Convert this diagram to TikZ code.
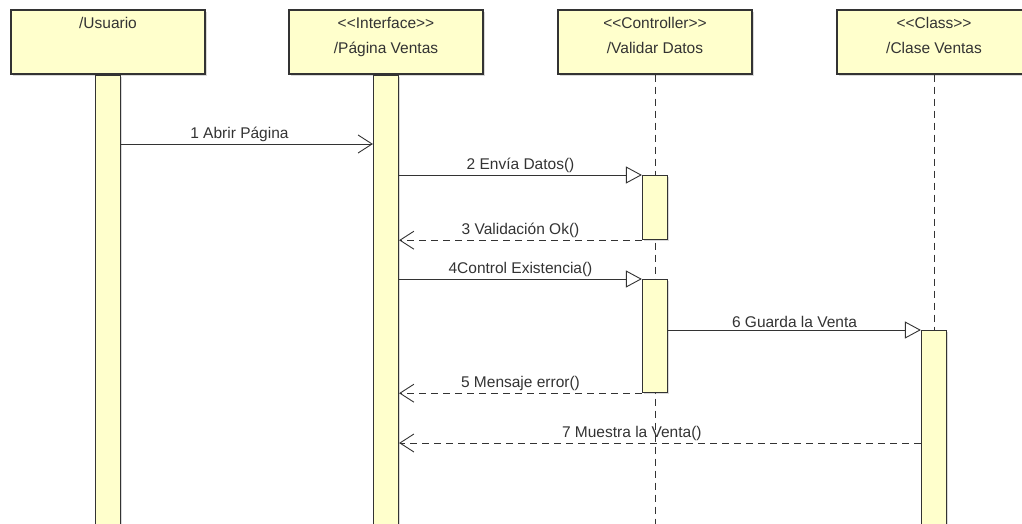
\documentclass[tikz,border=0pt]{standalone}
\usepackage{fontspec}
\setmainfont{Liberation Sans}
\usetikzlibrary{arrows.meta,positioning,shadows}
\definecolor{umlfill}{RGB}{255,255,204}
\definecolor{ink}{RGB}{51,51,51}

\begin{document}
\begin{tikzpicture}[
  x=1pt, y=-1pt,
  font=\fontsize{15.5}{25}\selectfont,
  head/.style  = {draw=ink, line width=1.2pt, fill=umlfill, minimum width=194pt, minimum height=64pt,
                  drop shadow={shadow xshift=2pt, shadow yshift=-2pt, opacity=0.3}},
  bar/.style   = {draw=ink, line width=1.2pt, fill=umlfill, minimum width=25pt, inner sep=0pt, anchor=north,
                  drop shadow={shadow xshift=1.5pt, shadow yshift=-1.5pt, opacity=0.3}},
  life/.style  = {draw=ink, line width=1pt, dash pattern=on 7pt off 5pt},
  msg/.style   = {draw=ink, line width=0.9pt},
  sync/.style  = {msg, -{Triangle[open, length=16pt, width=17pt]}},
  async/.style = {msg, -{Straight Barb[length=14pt, width=18pt]}},
  ret/.style   = {async, dash pattern=on 7pt off 5pt},
  note/.style  = {text=ink, inner sep=2pt, align=center}
]
\useasboundingbox (0,0) rectangle (1022,524);

% Heads
\node[head] (usuario) at (108,42) {};
\node[head] (pagina)  at (386,42) {};
\node[head] (validar) at (655,42) {};
\node[head] (clase)   at (934,42) {};
\node[note, below=6pt of usuario.north] {/Usuario};
\node[note, below=6pt of pagina.north]  {<{}<Interface>{}>\\/Página Ventas};
\node[note, below=6pt of validar.north] {<{}<Controller>{}>\\/Validar Datos};
\node[note, below=6pt of clase.north]   {<{}<Class>{}>\\/Clase Ventas};

% Lifelines
\coordinate (bottom) at (0,530);
\draw[life] (validar.south) -- (validar.south |- bottom);
\draw[life] (clase.south) -- (clase.south |- bottom);

% Activations
\node[bar, minimum height=460pt] (bar1)  at (usuario.south) {};
\node[bar, minimum height=460pt] (bar2)  at (pagina.south) {};
\node[bar, minimum height=64pt]  (check) at (655,175) {};
\node[bar, minimum height=113pt] (exist) at (655,279) {};
\node[bar, minimum height=210pt] (save)  at (934,330) {};

% Messages
\coordinate (m1) at (0,144);
\coordinate (m7) at (0,443);
\draw[async] (bar1.east |- m1) -- node[note, above, pos=0.47] {1 Abrir Página} (bar2.west |- m1);
\draw[sync] (bar2.east |- check.north) -- node[note, above] {2 Envía Datos()} (check.north west);
\draw[ret] (check.south west) -- node[note, above] {3 Validación Ok()} (bar2.east |- check.south);
\draw[sync] (bar2.east |- exist.north) -- node[note, above] {4Control Existencia()} (exist.north west);
\draw[sync] (exist.east |- save.north) -- node[note, above] {6 Guarda la Venta} (save.north west);
\draw[ret] (exist.south west) -- node[note, above] {5 Mensaje error()} (bar2.east |- exist.south);
\draw[ret] (save.west |- m7) -- node[note, above, pos=0.554] {7 Muestra la Venta()} (bar2.east |- m7);

\end{tikzpicture}
\end{document}
